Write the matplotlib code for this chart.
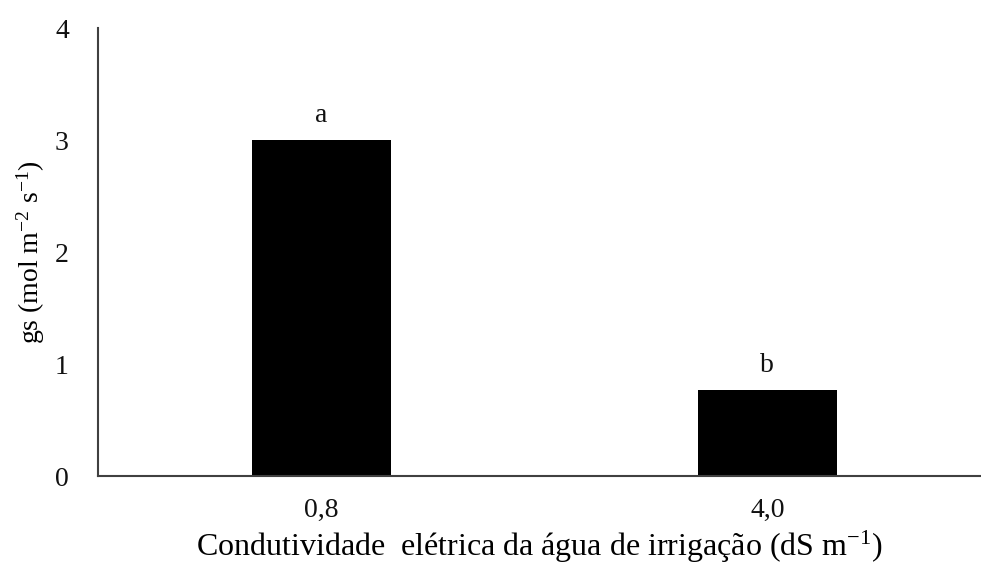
import matplotlib
matplotlib.use("Agg")
import matplotlib.pyplot as plt

plt.rcParams["mathtext.fontset"] = "custom"
plt.rcParams["mathtext.rm"] = "Liberation Serif"
plt.rcParams["mathtext.it"] = "Liberation Serif:italic"
plt.rcParams["font.family"] = "Liberation Serif"

categories = ["0,8", "4,0"]
gs_values = [3.0, 0.77]
letters = ["a", "b"]
y_ticks = [0, 1, 2, 3, 4]

fig = plt.figure(figsize=(9.81, 5.67), dpi=100)
ax = fig.add_axes([98 / 981, 91 / 567, 883 / 981, 448 / 567])

x = range(len(categories))
ax.bar(x, gs_values, width=0.312, color="black")

for xi, v, lt in zip(x, gs_values, letters):
    ax.annotate(lt, (xi, v), xytext=(0, 13), textcoords="offset points",
                ha="center", va="baseline", fontsize=20, color="#111111")

ax.set_xlim(-0.501, 1.479)
ax.set_ylim(0, 4)
ax.set_yticks(y_ticks)
ax.set_yticklabels([str(t) for t in y_ticks], fontsize=20)
ax.set_xticks(list(x))
ax.set_xticklabels(categories, fontsize=20)
ax.tick_params(axis="both", length=0, colors="#111111")
ax.tick_params(axis="y", pad=21)
ax.tick_params(axis="x", pad=16)

for s in ["top", "right"]:
    ax.spines[s].set_visible(False)
for s in ["left", "bottom"]:
    ax.spines[s].set_color("#404040")
    ax.spines[s].set_linewidth(1.5)

ax.set_ylabel("gs (mol m$^{\\mathregular{-2}}$ s$^{\\mathregular{-1}}$)", fontsize=20, labelpad=6)
ax.set_xlabel("Condutividade  elétrica da água de irrigação (dS m$^{\\mathregular{-1}}$)",
              fontsize=23, labelpad=4)

fig.savefig("out.png", dpi=100)
